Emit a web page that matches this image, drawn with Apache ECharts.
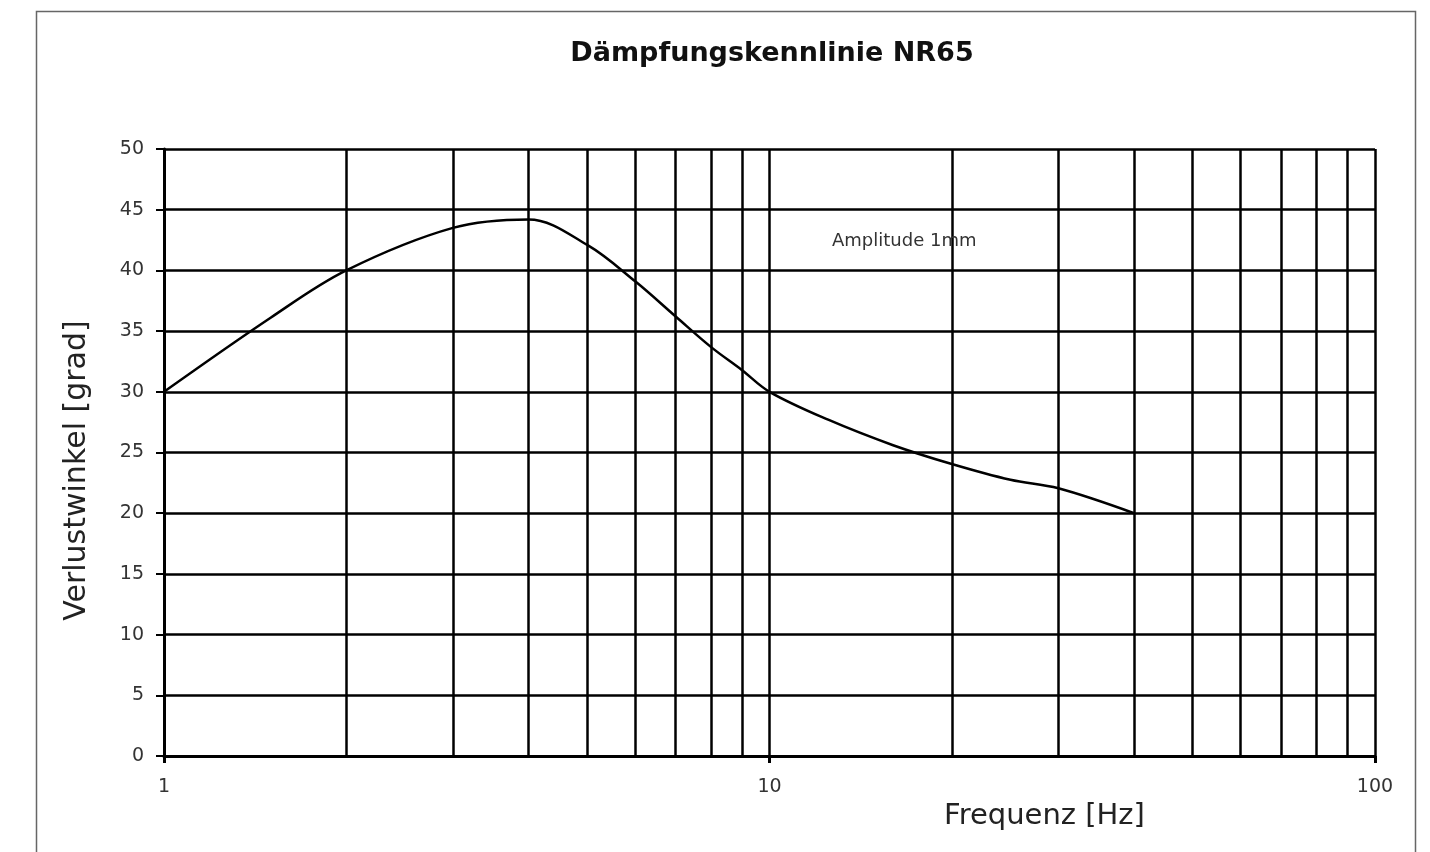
<!DOCTYPE html>
<html>
<head>
<meta charset="utf-8">
<script src="https://cdn.jsdelivr.net/npm/echarts@6/dist/echarts.min.js"></script>
<style>
html,body{margin:0;padding:0;background:#fff;}
#chart{width:1430px;height:852px;}
</style>
</head>
<body>
<div id="chart"></div>
<script>
// Data
const freq = [1, 1.5, 2, 3, 4, 5, 6, 7, 8, 9, 10, 12.5, 16, 20, 25, 30, 40];
const angle = [30, 36.1, 40, 43.5, 44.2, 42.1, 39.1, 36.2, 33.7, 31.8, 30, 27.7, 25.6, 24.05, 22.75, 22.05, 20];
const xGridValues = [2, 3, 4, 5, 6, 7, 8, 9, 10, 20, 30, 40, 50, 60, 70, 80, 90, 100];

const FONT = '"DejaVu Sans", "Liberation Sans", sans-serif';
const chart = echarts.init(document.getElementById('chart'));
chart.setOption({
  backgroundColor: '#ffffff',
  animation: false,
  title: {
    text: 'Dämpfungskennlinie NR65',
    left: 767, textAlign: 'center', top: 35,
    textStyle: { fontFamily: FONT, fontWeight: 'bold', fontSize: 27, color: '#111' }
  },
  graphic: [
    { type: 'rect', shape: { x: 36.5, y: 11.5, width: 1379, height: 900 },
      style: { fill: 'none', stroke: '#666', lineWidth: 1.5 }, silent: true, z: -1 },
    { type: 'text', left: 832, top: 232,
      style: { text: 'Amplitude 1mm', fontFamily: FONT, fontSize: 18, fill: '#333' }, z: 10 }
  ],
  grid: { left: 164, right: 55, top: 149, bottom: 96, containLabel: false },
  xAxis: {
    type: 'log', logBase: 10, min: 1, max: 100,
    name: 'Frequenz [Hz]', nameLocation: 'middle', nameGap: 44,
    nameTextStyle: { fontFamily: FONT, fontSize: 29, color: '#222', padding: [0, 0, 0, 550] },
    axisLine: { show: true, onZero: false, lineStyle: { color: '#000', width: 3 } },
    axisTick: { show: true, length: 7, lineStyle: { color: '#000', width: 3 } },
    axisLabel: { fontFamily: FONT, fontSize: 19, color: '#333', margin: 22 },
    splitLine: { show: false }
  },
  yAxis: {
    type: 'value', min: 0, max: 50, interval: 5,
    name: 'Verlustwinkel [grad]', nameLocation: 'middle', nameGap: 72,
    nameTextStyle: { fontFamily: FONT, fontSize: 30, color: '#222', padding: [0, 36, 0, 0] },
    axisLine: { show: true, lineStyle: { color: '#000', width: 3 } },
    axisTick: { show: true, length: 8, lineStyle: { color: '#000', width: 2 } },
    axisLabel: { fontFamily: FONT, fontSize: 19, color: '#333', margin: 20 },
    splitLine: { show: true, lineStyle: { color: '#000', width: 2.5 } }
  },
  series: [{
    type: 'line',
    data: freq.map((f, i) => [f, angle[i]]),
    smooth: 0.35,
    symbol: 'none',
    lineStyle: { color: '#000', width: 2.5 },
    z: 5,
    markLine: {
      silent: true, symbol: 'none', animation: false,
      label: { show: false },
      lineStyle: { color: '#000', width: 2.5, type: 'solid' },
      data: xGridValues.map(v => ({ xAxis: v }))
    }
  }]
});
</script>
</body>
</html>
